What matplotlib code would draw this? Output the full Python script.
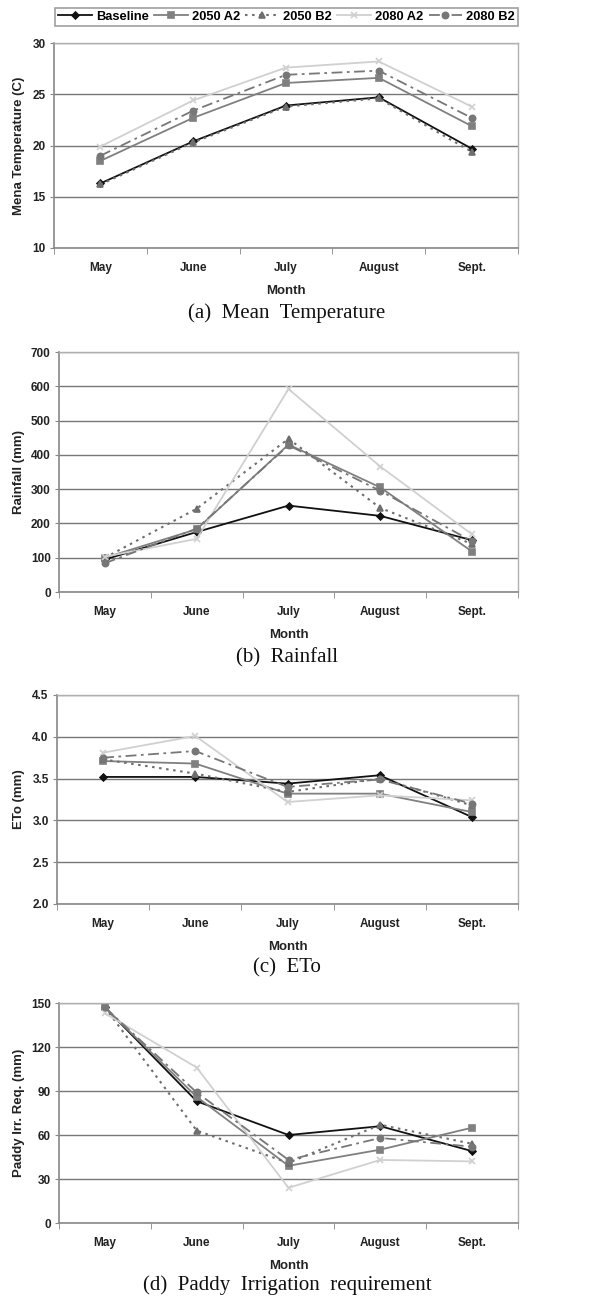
import matplotlib
matplotlib.use('Agg')
import matplotlib.pyplot as plt
import numpy as np

months = ['May', 'June', 'July', 'August', 'Sept.']
series = ['Baseline', '2050 A2', '2050 B2', '2080 A2', '2080 B2']

# (a) mean temperature
temp_base = [16.3, 20.4, 23.9, 24.7, 19.7]
temp_50a2 = [18.5, 22.7, 26.1, 26.6, 21.9]
temp_50b2 = [16.2, 20.3, 23.8, 24.6, 19.4]
temp_80a2 = [19.9, 24.4, 27.6, 28.2, 23.8]
temp_80b2 = [19.0, 23.4, 26.9, 27.3, 22.7]

# (b) rainfall
rain_base = [95, 175, 252, 222, 151]
rain_50a2 = [100, 183, 430, 305, 118]
rain_50b2 = [100, 243, 447, 245, 140]
rain_80a2 = [103, 155, 592, 366, 168]
rain_80b2 = [84, 185, 428, 295, 148]

# (c) ETo
eto_base = [3.52, 3.52, 3.44, 3.54, 3.04]
eto_50a2 = [3.71, 3.68, 3.32, 3.32, 3.10]
eto_50b2 = [3.73, 3.56, 3.34, 3.50, 3.18]
eto_80a2 = [3.81, 4.01, 3.22, 3.30, 3.24]
eto_80b2 = [3.75, 3.83, 3.40, 3.49, 3.20]

# (d) paddy irrigation requirement
irr_base = [147, 83, 60, 66, 49]
irr_50a2 = [147, 86, 39, 50, 65]
irr_50b2 = [147, 63, 41, 67, 54]
irr_80a2 = [143, 106, 24, 43, 42]
irr_80b2 = [147, 89, 43, 58, 52]

styles = [
    dict(color='#111111', ls='-', marker='D', ms=3.5, lw=1.3),
    dict(color='#808080', ls='-', marker='s', ms=4, lw=1.3),
    dict(color='#6e6e6e', ls=(0, (1.2, 2.2)), marker='^', ms=4.5, lw=1.5),
    dict(color='#d0d0d0', ls='-', marker='x', ms=5, lw=1.3),
    dict(color='#777777', ls=(0, (6, 2.5, 1.5, 2.5)), marker='o', ms=4.5, lw=1.3),
]

W, H = 590, 1298
fig = plt.figure(figsize=(W / 100, H / 100), dpi=100)
plt.rcParams['font.family'] = 'Liberation Sans'

def make_axes(l, t, r, b):
    return fig.add_axes([l / W, 1 - b / H, (r - l) / W, (b - t) / H])

panels = [
    ((54, 43, 518, 248), [temp_base, temp_50a2, temp_50b2, temp_80a2, temp_80b2],
     (10, 30), np.arange(10, 31, 5), '%d', 'Mena Temperature (C)', '(a)  Mean  Temperature', 313),
    ((59, 352, 518, 592), [rain_base, rain_50a2, rain_50b2, rain_80a2, rain_80b2],
     (0, 700), np.arange(0, 701, 100), '%d', 'Rainfall (mm)', '(b)  Rainfall', 658),
    ((57, 695, 518, 904), [eto_base, eto_50a2, eto_50b2, eto_80a2, eto_80b2],
     (2.0, 4.5), np.arange(2.0, 4.51, 0.5), '%.1f', 'ETo (mm)', '(c)  ETo', 968),
]
panels.append(((59, 1003, 518, 1223), [irr_base, irr_50a2, irr_50b2, irr_80a2, irr_80b2],
               (0, 150), np.arange(0, 151, 30), '%d', 'Paddy Irr. Req. (mm)',
               '(d)  Paddy  Irrigation  requirement', 1285))

x = np.arange(len(months))
handles = []
for box, data, ylim, yticks, fmt, ylab, cap, capy in panels:
    ax = make_axes(*box)
    ax.set_xlim(-0.5, len(months) - 0.5)
    ax.set_ylim(*ylim)
    ax.set_yticks(yticks)
    ax.set_yticklabels([fmt % v for v in yticks])
    ax.yaxis.grid(True, color='#777777', lw=1.0)
    ax.set_axisbelow(True)
    hs = []
    for vals, st in zip(data, styles):
        h, = ax.plot(x, vals, color=st['color'], ls=st['ls'], lw=st['lw'],
                     marker=st['marker'], ms=st['ms'], mec=st['color'],
                     mfc=st['color'], mew=1.2)
        hs.append(h)
    handles = hs
    ax.set_xticks(x)
    ax.set_xticklabels(months, fontsize=8.5, fontweight='bold', color='#222222')
    ax.set_xticks(np.arange(-0.5, len(months)), minor=True)
    ax.tick_params(axis='x', which='major', length=0, pad=10)
    ax.tick_params(axis='x', which='minor', length=4, color='#888888', direction='out')
    ax.tick_params(axis='y', length=3, color='#888888', labelsize=8.5, pad=3)
    for lab in ax.get_yticklabels():
        lab.set_fontweight('bold')
        lab.set_color('#222222')
    ax.set_xlabel('Month', fontsize=9.5, fontweight='bold', labelpad=8, color='#222222')
    ax.set_ylabel(ylab, fontsize=9.5, fontweight='bold', color='#222222')
    ax.yaxis.set_label_coords(-(box[0] - 25) / (box[2] - box[0]), 0.5)
    for side in ['top', 'right']:
        ax.spines[side].set_color('#b0b0b0')
        ax.spines[side].set_linewidth(1.0)
    for side in ['left', 'bottom']:
        ax.spines[side].set_color('#888888')
        ax.spines[side].set_linewidth(1.2)
    fig.text(287 / W, 1 - capy / H, cap, ha='center', va='center',
             fontsize=15, family='Liberation Serif', color='#111111')

leg = fig.legend(handles, series, loc='lower left', ncol=5, mode='expand',
                 bbox_to_anchor=(55 / W, 1 - 26 / H, 463 / W, 22 / H), frameon=True,
                 fancybox=False, edgecolor='#888888', handlelength=2.6,
                 columnspacing=0.8, handletextpad=0.3, borderpad=0.25,
                 borderaxespad=0,
                 prop={'family': 'Liberation Sans', 'weight': 'bold', 'size': 9.3})
leg.get_frame().set_linewidth(1.2)

fig.savefig('out.png', dpi=100)
